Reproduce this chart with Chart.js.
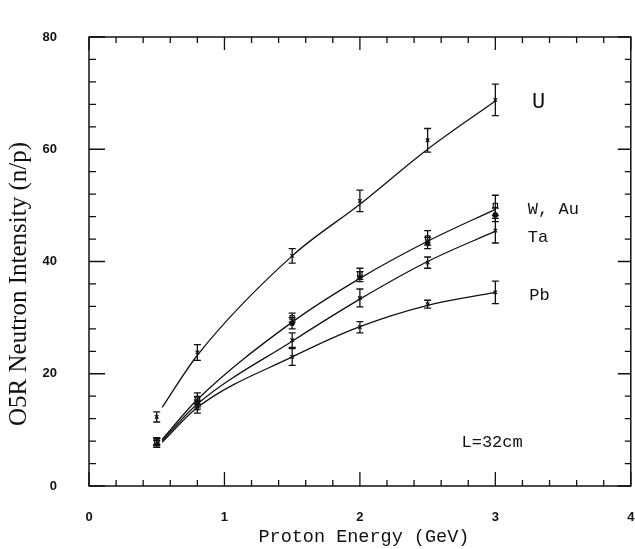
<!DOCTYPE html>
<html>
<head>
<meta charset="utf-8">
<script src="https://cdn.jsdelivr.net/npm/chart.js@4"></script>
<style>
  html, body { margin: 0; padding: 0; background: #fff; }
  #wrap { width: 635px; height: 549px; }
</style>
</head>
<body>
<div id="wrap"><canvas id="chart" width="635" height="549"></canvas></div>
<script>
// proton energies (GeV)
const energies = [0.5, 0.8, 1.5, 2.0, 2.5, 3.0];

// measured points and errors
const uVals = [12.3, 23.8, 41.0, 50.8, 61.6, 68.8];
const uErr = [0.9, 1.4, 1.3, 1.9, 2.1, 2.8];
const wVals = [8.0, 15.6, 30.0, 37.8, 44.2, 50.0];
const wErr = [0.6, 1.0, 0.8, 1.0, 1.3, 1.8];
const auVals = [7.8, 15.0, 29.0, 37.3, 43.3, 48.3];
const auErr = [0.6, 0.9, 1.0, 0.9, 1.0, 1.2];
const taVals = [7.9, 14.5, 26.0, 33.5, 39.8, 45.5];
const taErr = [0.6, 0.8, 1.3, 1.6, 1.0, 2.2];
const pbVals = [7.5, 13.8, 23.0, 28.3, 32.4, 34.5];
const pbErr = [0.6, 0.8, 1.5, 1.0, 0.7, 2.0];

// fitted curves
const fitX = [0.54, 0.8, 1.5, 2.0, 2.5, 3.0];
const uFit = [14.0, 23.3, 41.0, 50.2, 60.0, 68.6];
const wFit = [8.3, 15.4, 29.2, 37.0, 43.6, 49.3];
const taFit = [8.1, 14.6, 25.8, 33.3, 40.0, 45.4];
const pbFit = [7.8, 14.0, 23.0, 28.4, 32.2, 34.5];

const seriesLabels = [
  { text: 'U', x: 3.27, y: 68.3, size: 22 },
  { text: 'W, Au', x: 3.24, y: 49.2, size: 17 },
  { text: 'Ta', x: 3.24, y: 44.2, size: 17 },
  { text: 'Pb', x: 3.25, y: 34.0, size: 17 },
  { text: 'L=32cm', x: 2.75, y: 7.8, size: 17 },
];

const xMinor = 0.2, yMinor = 4;

function pts(xs, ys) { return xs.map((x, i) => ({ x: x, y: ys[i] })); }

function fitSet(ys) {
  return { data: pts(fitX, ys), borderColor: '#111', borderWidth: 1.3, pointRadius: 0,
    cubicInterpolationMode: 'monotone', fill: false };
}
function pointSet(ys, errs, style, r) {
  return { data: pts(energies, ys), errors: errs, showLine: false, pointStyle: style,
    pointRadius: r, borderColor: '#111', backgroundColor: style === 'circle' ? '#111' : '#fff',
    borderWidth: 1.2, pointHoverRadius: r };
}

const frame = {
  id: 'frame',
  beforeDatasetsDraw(chart) {
    const { ctx, chartArea: a, scales: { x, y } } = chart;
    ctx.save();
    ctx.strokeStyle = '#111';
    ctx.lineWidth = 1.5;
    ctx.strokeRect(a.left, a.top, a.right - a.left, a.bottom - a.top);
    ctx.lineWidth = 1.3;
    ctx.beginPath();
    for (let v = 0; v <= 4.0001; v += xMinor) {
      const px = x.getPixelForValue(v);
      const major = Math.abs(v - Math.round(v)) < 1e-6;
      const lb = major ? 14 : 6, lt = major ? 13 : 6;
      ctx.moveTo(px, a.bottom); ctx.lineTo(px, a.bottom - lb);
      ctx.moveTo(px, a.top); ctx.lineTo(px, a.top + lt);
    }
    for (let v = 0; v <= 80.001; v += yMinor) {
      const py = y.getPixelForValue(v);
      const major = v % 20 === 0;
      const ll = major ? 16 : 7, lr = major ? 13 : 6;
      ctx.moveTo(a.left, py); ctx.lineTo(a.left + ll, py);
      ctx.moveTo(a.right, py); ctx.lineTo(a.right - lr, py);
    }
    ctx.stroke();
    ctx.restore();
  },
  afterDatasetsDraw(chart) {
    const { ctx, scales: { x, y } } = chart;
    ctx.save();
    ctx.strokeStyle = '#111';
    ctx.lineWidth = 1.3;
    chart.data.datasets.forEach((ds) => {
      if (!ds.errors) return;
      ds.data.forEach((p, i) => {
        const px = x.getPixelForValue(p.x);
        const top = y.getPixelForValue(p.y + ds.errors[i]);
        const bot = y.getPixelForValue(p.y - ds.errors[i]);
        ctx.beginPath();
        ctx.moveTo(px, top); ctx.lineTo(px, bot);
        ctx.moveTo(px - 3.5, top); ctx.lineTo(px + 3.5, top);
        ctx.moveTo(px - 3.5, bot); ctx.lineTo(px + 3.5, bot);
        ctx.stroke();
      });
    });
    ctx.fillStyle = '#111';
    ctx.textBaseline = 'middle';
    ctx.textAlign = 'left';
    seriesLabels.forEach((l) => {
      ctx.font = l.size + 'px "Liberation Mono", monospace';
      ctx.fillText(l.text, x.getPixelForValue(l.x), y.getPixelForValue(l.y));
    });
    ctx.restore();
  },
  afterDraw(chart) {
    const { ctx, chartArea: a } = chart;
    ctx.save();
    ctx.fillStyle = '#111';
    ctx.textAlign = 'center';
    ctx.textBaseline = 'middle';
    ctx.font = '18.5px "Liberation Mono", monospace';
    ctx.fillText('Proton Energy (GeV)', (a.left + a.right) / 2 + 4, 537);
    ctx.translate(19, 284);
    ctx.rotate(-Math.PI / 2);
    ctx.font = '25px "Liberation Serif", serif';
    ctx.fillText('O5R Neutron Intensity (n/p)', 0, 0);
    ctx.restore();
  }
};

new Chart(document.getElementById('chart'), {
  type: 'line',
  data: {
    datasets: [
      fitSet(uFit), fitSet(wFit), fitSet(taFit), fitSet(pbFit),
      pointSet(uVals, uErr, 'crossRot', 2.5),
      pointSet(wVals, wErr, 'rect', 3),
      pointSet(auVals, auErr, 'circle', 2.2),
      pointSet(taVals, taErr, 'crossRot', 2.5),
      pointSet(pbVals, pbErr, 'crossRot', 2.5),
    ],
  },
  options: {
    responsive: false,
    animation: false,
    layout: { padding: { top: 37, right: 3, left: 0, bottom: 0 } },
    plugins: { legend: { display: false }, tooltip: { enabled: false } },
    scales: {
      x: {
        type: 'linear', min: 0, max: 4,
        grid: { display: false }, border: { display: false },
        ticks: { stepSize: 1, padding: 16, color: '#111', maxRotation: 0,
          font: { family: 'Liberation Sans', size: 13, weight: 'bold' } },
        afterFit(s) { s.height = 63; s.paddingLeft = 0; s.paddingRight = 0; },
      },
      y: {
        min: 0, max: 80,
        grid: { display: false }, border: { display: false },
        ticks: { stepSize: 20, padding: 24, color: '#111',
          font: { family: 'Liberation Sans', size: 13, weight: 'bold' } },
        afterFit(s) { s.width = 89; s.paddingTop = 0; s.paddingBottom = 0; },
      },
    },
  },
  plugins: [frame],
});
</script>
</body>
</html>
